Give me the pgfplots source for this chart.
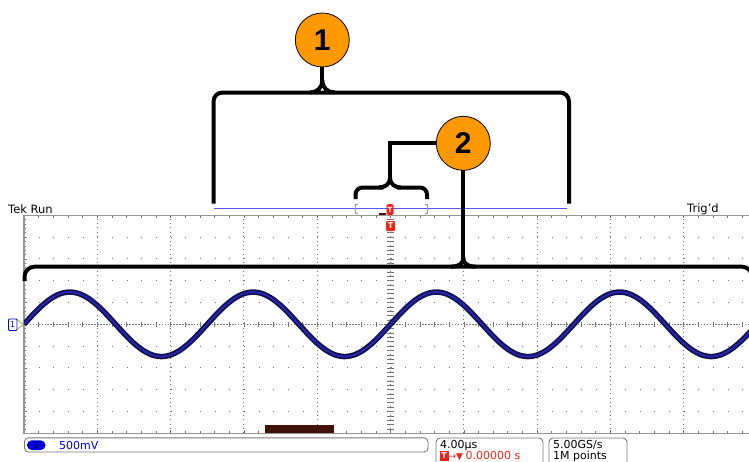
\documentclass[border=0pt]{standalone}
\usepackage{fontspec}
\setmainfont{DejaVu Sans}
\newfontfamily\callout{Liberation Sans}
\usepackage{pgfplots}
\usepackage{pgfplotstable}
\pgfplotsset{compat=1.18}

\definecolor{grat}{RGB}{150,150,150}
\definecolor{gratdot}{RGB}{115,115,115}
\definecolor{traceout}{RGB}{20,20,70}
\definecolor{tracein}{RGB}{35,35,190}
\definecolor{chblue}{RGB}{0,0,225}
\definecolor{badge}{RGB}{255,153,0}
\definecolor{recbar}{RGB}{65,18,8}
\definecolor{tekred}{RGB}{240,35,25}
\definecolor{reclen}{RGB}{85,85,245}
\definecolor{boxgray}{RGB}{120,120,120}
\definecolor{chmark}{RGB}{165,170,50}

\newcommand\scr{\fontsize{11}{11}\selectfont}

% 100 kHz sine, 4.00 us/div, 500 mV/div -> values in divisions
\pgfplotstableread{
t v
0.000 0
0.125 0.457
0.250 0.870
0.375 1.197
0.500 1.408
0.625 1.480
0.750 1.408
0.875 1.197
1.000 0.870
1.125 0.457
1.250 0
1.375 -0.457
1.500 -0.870
1.625 -1.197
1.750 -1.408
1.875 -1.480
2.000 -1.408
2.125 -1.197
2.250 -0.870
2.375 -0.457
2.500 0
2.625 0.457
2.750 0.870
2.875 1.197
3.000 1.408
3.125 1.480
3.250 1.408
3.375 1.197
3.500 0.870
3.625 0.457
3.750 0
3.875 -0.457
4.000 -0.870
4.125 -1.197
4.250 -1.408
4.375 -1.480
4.500 -1.408
4.625 -1.197
4.750 -0.870
4.875 -0.457
5.000 0
5.125 0.457
5.250 0.870
5.375 1.197
5.500 1.408
5.625 1.480
5.750 1.408
5.875 1.197
6.000 0.870
6.125 0.457
6.250 0
6.375 -0.457
6.500 -0.870
6.625 -1.197
6.750 -1.408
6.875 -1.480
7.000 -1.408
7.125 -1.197
7.250 -0.870
7.375 -0.457
7.500 0
7.625 0.457
7.750 0.870
7.875 1.197
8.000 1.408
8.125 1.480
8.250 1.408
8.375 1.197
8.500 0.870
8.625 0.457
8.750 0
8.875 -0.457
9.000 -0.870
9.125 -1.197
9.250 -1.408
9.375 -1.480
9.500 -1.408
9.625 -1.197
9.750 -0.870
9.875 -0.457
10.000 0
}\wave

\begin{document}
\begin{tikzpicture}
\useasboundingbox (0pt,0pt) rectangle (749pt,-461pt);
\clip (0pt,0pt) rectangle (749pt,-461pt);

% centre cross of the graticule
\begin{scope}[x=1pt,y=-1pt]
  \draw[gratdot, line width=0.7pt, dash pattern=on 1.5pt off 1.43pt] (24,324.3) -- (757,324.3);
  \foreach \i in {0,...,50}
    \draw[gratdot, line width=0.6pt] ({24+\i*14.66},321.8) -- ({24+\i*14.66},326.8);
  \foreach \j in {0,...,50}
    \draw[gratdot, line width=0.6pt] (387.2,{215.3+\j*4.36}) -- (393.8,{215.3+\j*4.36});
\end{scope}

\begin{axis}[
  at={(24pt,-433.3pt)}, anchor=south west,
  scale only axis, width=733pt, height=218pt,
  xmin=0, xmax=10, ymin=-5, ymax=5,
  axis line style={grat, line width=1.4pt},
  xtick={0,...,10}, ytick={-5,...,5},
  minor x tick num=4, minor y tick num=4,
  xticklabel=\empty, yticklabel=\empty,
  tick align=inside,
  every tick/.style={gratdot, line width=0.6pt},
  major tick length=3pt, minor tick length=2.5pt,
  grid=major,
  major x grid style={gratdot, line width=0.9pt, dash pattern=on 0.9pt off 3.46pt},
  major y grid style={gratdot, line width=0.9pt, dash pattern=on 1pt off 13.66pt},
]
\addplot[traceout, line width=5.5pt, smooth, line join=round] table[x=t, y=v] {\wave};
\addplot[tracein, line width=1.8pt, smooth, line join=round] table[x=t, y=v] {\wave};
\end{axis}

\begin{scope}[x=1pt,y=-1pt]
  \fill[recbar] (265,425) rectangle (333.5,432.5);
  % status line on top
  \node[anchor=base west, inner sep=0, font=\fontsize{11.5}{12}\selectfont] at (8,213) {Tek Run};
  \node[anchor=base west, inner sep=0, font=\fontsize{11.5}{12}\selectfont] at (687,212.5) {Trig'd};
  \draw[reclen, line width=1pt] (214,208.3) -- (567,208.3);
  \draw[grat, line width=0.8pt] (357.5,204) -- (355.5,204) -- (355.5,213) -- (357.5,213);
  \draw[grat, line width=0.8pt] (425,204) -- (427,204) -- (427,213) -- (425,213);
  \fill[recbar] (379,212.6) rectangle (385.5,214.6);
  \node[fill=tekred, rounded corners=1.5pt, text=white, inner sep=0, minimum width=7pt, minimum height=11pt,
        font=\bfseries\fontsize{7}{7}\selectfont] at (390,209.5) {T};
  \node[fill=tekred, rounded corners=1pt, text=white, inner sep=0, minimum width=9pt, minimum height=10pt,
        font=\bfseries\fontsize{8}{8}\selectfont] at (390.5,226) {T};

  % channel 1 ground marker
  \draw[chblue, fill=white, line width=0.8pt, rounded corners=1pt] (8.5,319) rectangle (17,330.5);
  \node[chblue, inner sep=0, font=\fontsize{8}{8}\selectfont] at (12.75,324.75) {1};
  \draw[chmark, line width=0.8pt] (17,319.5) -- (23.5,324.5) -- (17,329.5);

  % readouts at the bottom
  \draw[boxgray, line width=0.9pt, rounded corners=4pt] (24.5,437.8) rectangle (428,452);
  \fill[chblue, rounded corners=4.8pt] (27,440.3) rectangle (45.5,450);
  \node[inner sep=0, font=\fontsize{8}{8}\selectfont] at (36.2,445.2) {1};
  \node[anchor=base west, inner sep=0, chblue, font=\scr] at (59,449) {500mV};
  \draw[boxgray, line width=0.9pt, rounded corners=4pt] (436,438) rectangle (543,478);
  \node[anchor=base west, inner sep=0, font=\scr] at (440,448) {4.00µs};
  \fill[tekred] (440,451) rectangle (448.5,461);
  \node[inner sep=0, text=white, font=\bfseries\fontsize{8}{8}\selectfont] at (444.2,456) {T};
  \node[anchor=base west, inner sep=0, tekred, font=\fontsize{9}{9}\selectfont] at (448.5,459.5) {→▼};
  \node[anchor=base west, inner sep=0, tekred, font=\scr] at (465.5,459.5) {0.00000 s};
  \draw[boxgray, line width=0.9pt, rounded corners=4pt] (549,438) rectangle (627,478);
  \node[anchor=base west, inner sep=0, font=\scr] at (553,448) {5.00GS/s};
  \node[anchor=base west, inner sep=0, font=\scr] at (553,459.5) {1M points};

  % callout 1: whole record
  \begin{scope}[line width=4pt]
    \draw[rounded corners=9pt] (213.5,203.5) -- (213.5,92.5) -- (569,92.5) -- (569,203.5);
    \draw (310,92.5) .. controls (317,92.5) and (322.3,88) .. (322.3,80)
                     .. controls (322.3,88) and (327.6,92.5) .. (334.6,92.5);
    \draw (322.3,81) -- (322.3,66);
    % callout 2: displayed part
    \draw[rounded corners=7pt] (355.5,199) -- (355.5,187.5) -- (383,187.5);
    \draw[rounded corners=7pt] (397,187.5) -- (427,187.5) -- (427,199);
    \draw (379,187.5) .. controls (385,187.5) and (390,184) .. (390,178)
                      .. controls (390,184) and (395,187.5) .. (401,187.5);
    \draw[line join=miter] (390,179) -- (390,143.3) -- (437,143.3);
    \draw (463.3,170) -- (463.3,260);
    \draw[rounded corners=10pt] (24.5,281) -- (24.5,266.7) -- (752,266.7) -- (752,300);
    \draw (451,266.7) .. controls (458,266.7) and (463.3,264) .. (463.3,258)
                      .. controls (463.3,264) and (468.6,266.7) .. (475.6,266.7);
  \end{scope}
  \draw[fill=badge, line width=0.8pt] (322.3,40) circle[radius=27];
  \node[inner sep=0, font=\callout\bfseries\fontsize{30}{30}\selectfont] at (322.3,40) {1};
  \draw[fill=badge, line width=0.8pt] (463.3,143.3) circle[radius=27];
  \node[inner sep=0, font=\callout\bfseries\fontsize{30}{30}\selectfont] at (463.3,143.3) {2};
\end{scope}
\end{tikzpicture}
\end{document}
